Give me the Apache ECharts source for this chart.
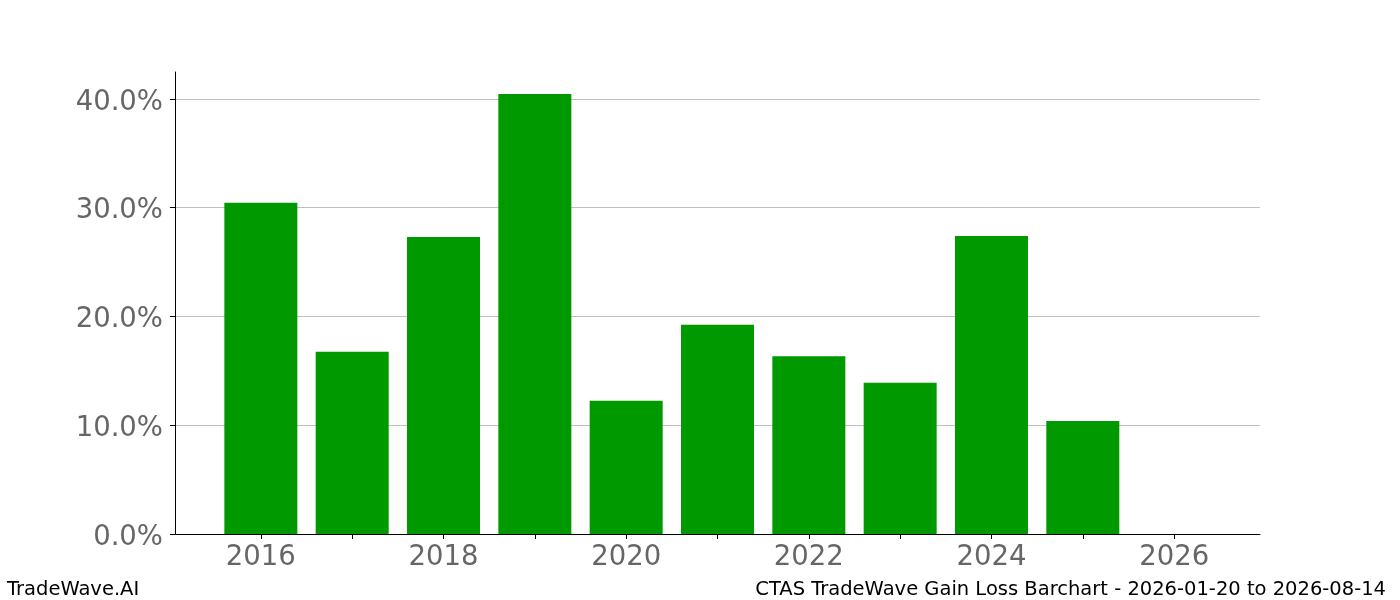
<!DOCTYPE html>
<html>
<head>
<meta charset="utf-8">
<script src="https://cdn.jsdelivr.net/npm/echarts@6/dist/echarts.min.js"></script>
<style>
  html, body { margin: 0; padding: 0; background: #fff; }
  #chart { width: 1400px; height: 600px; }
</style>
</head>
<body>
<div id="chart"></div>
<script>
// data
var years = [2016, 2017, 2018, 2019, 2020, 2021, 2022, 2023, 2024, 2025, 2026];
var gains = [30.45, 16.75, 27.3, 40.45, 12.25, 19.25, 16.35, 13.9, 27.4, 10.4, 0];
var xLabelYears = [2016, 2018, 2020, 2022, 2024, 2026];
var yTicks = [0, 10, 20, 30, 40];

var chart = echarts.init(document.getElementById('chart'), null, { renderer: 'canvas' });

var font = 'DejaVu Sans';
var tickGray = '#666666';

var option = {
  backgroundColor: '#ffffff',
  animation: false,
  grid: { left: 175, right: 140, top: 72, bottom: 66 },
  xAxis: {
    type: 'value',
    min: 2015.06,
    max: 2026.94,
    splitLine: { show: false },
    axisLine: { show: true, onZero: false, lineStyle: { color: '#000', width: 1 } },
    axisTick: {
      show: true,
      customValues: years,
      length: 5,
      lineStyle: { color: '#000' }
    },
    axisLabel: {
      customValues: xLabelYears,
      formatter: function (v) { return String(v); },
      fontFamily: font,
      fontSize: 27.5,
      color: tickGray,
      margin: 10
    }
  },
  yAxis: {
    type: 'value',
    min: 0,
    max: 42.48,
    interval: 10,
    axisLine: { show: true, lineStyle: { color: '#000', width: 1 } },
    axisTick: { show: true, customValues: yTicks, length: 5, lineStyle: { color: '#000' } },
    splitLine: { show: true, lineStyle: { color: '#c0c0c0', width: 1 } },
    axisLabel: {
      customValues: yTicks,
      formatter: function (v) { return '{v|' + v.toFixed(1) + '%}'; },
      margin: 12,
      rich: {
        v: {
          fontFamily: font,
          fontSize: 27.5,
          color: tickGray,
          padding: [7, 0, 0, 0]
        }
      }
    }
  },
  series: [{
    type: 'bar',
    data: years.map(function (y, i) { return [y, gains[i]]; }),
    barWidth: 73,
    itemStyle: { color: '#009900' }
  }],
  graphic: [
    {
      type: 'text', left: 7, top: 580,
      style: { text: 'TradeWave.AI', fontFamily: font, fontSize: 19.5, fill: '#000' }
    },
    {
      type: 'text', right: 14, top: 580,
      style: { text: 'CTAS TradeWave Gain Loss Barchart - 2026-01-20 to 2026-08-14', fontFamily: font, fontSize: 19.5, fill: '#000' }
    }
  ]
};

chart.setOption(option);
</script>
</body>
</html>
